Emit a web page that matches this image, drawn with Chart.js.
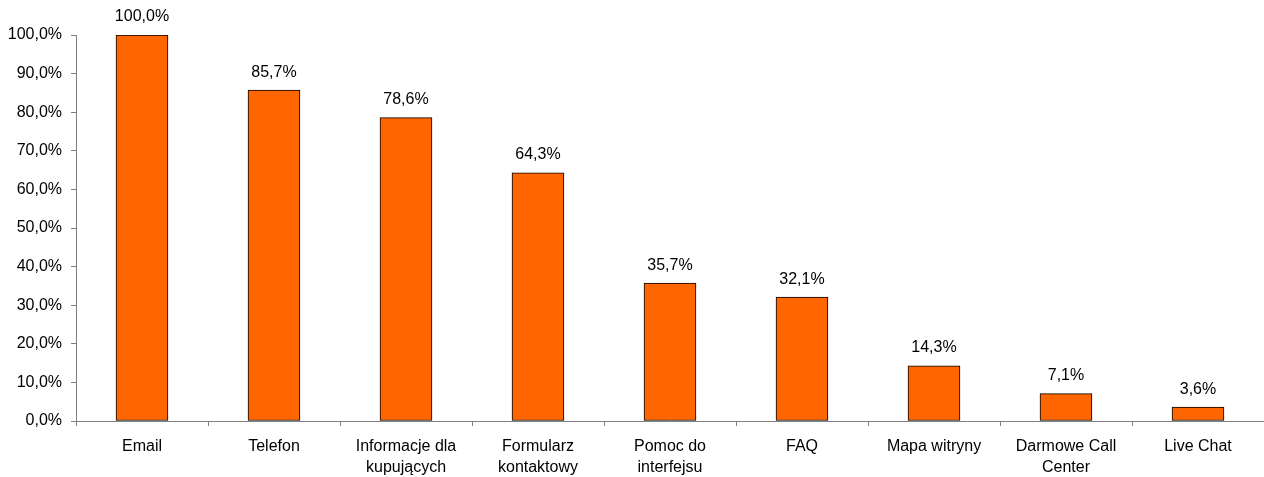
<!doctype html>
<html>
<head>
  <meta charset="utf-8">
  <title>Kanały kontaktu</title>
  <script src="https://cdn.jsdelivr.net/npm/chart.js"></script>
  <style>
    body { margin: 0; background: #fff; }
    #wrap { width: 1264px; height: 477px; position: relative; }
  </style>
</head>
<body>
<div id="wrap"><canvas id="chart"></canvas></div>
<script>
    const categories = [
        'Email',
        'Telefon',
        ['Informacje dla', 'kupujących'],
        ['Formularz', 'kontaktowy'],
        ['Pomoc do', 'interfejsu'],
        'FAQ',
        'Mapa witryny',
        ['Darmowe Call', 'Center'],
        'Live Chat'
    ];
    const shares = [100.0, 85.7, 78.6, 64.3, 35.7, 32.1, 14.3, 7.1, 3.6];

    const pct = v => v.toFixed(1).replace('.', ',') + '%';
    const axisGray = '#808080';
    const fontFamily = 'Arial, "Liberation Sans", sans-serif';
    const font = { family: fontFamily, size: 16 };

    // values printed above each bar
    const barLabels = {
        id: 'barLabels',
        afterDatasetsDraw(chart) {
            const ctx = chart.ctx;
            const meta = chart.getDatasetMeta(0);
            ctx.save();
            ctx.font = '16px ' + fontFamily;
            ctx.fillStyle = '#000';
            ctx.textAlign = 'center';
            ctx.textBaseline = 'middle';
            meta.data.forEach((bar, i) => {
                ctx.fillText(pct(shares[i]), bar.x, bar.y - 18);
            });
            ctx.restore();
        }
    };

    const ctx = document.getElementById('chart').getContext('2d');
    const chart = new Chart(ctx, {
        type: 'bar',
        data: {
            labels: categories,
            datasets: [{
                data: shares,
                backgroundColor: '#FF6600',
                borderColor: '#000',
                borderWidth: 1,
                borderSkipped: false,
                barThickness: 52
            }]
        },
        options: {
            responsive: true,
            maintainAspectRatio: false,
            animation: false,
            layout: { padding: { top: 35, right: 0, bottom: 0, left: 0 } },
            plugins: {
                legend: { display: false },
                tooltip: { enabled: false }
            },
            scales: {
                x: {
                    border: { color: axisGray, width: 1 },
                    grid: {
                        drawOnChartArea: false,
                        drawTicks: true,
                        tickLength: 5,
                        color: axisGray,
                        offset: true
                    },
                    ticks: {
                        color: '#000',
                        font: { ...font, lineHeight: 1.3 },
                        padding: 10,
                        maxRotation: 0,
                        autoSkip: false
                    },
                    afterFit: s => { s.height = 56; }
                },
                y: {
                    min: 0,
                    max: 100,
                    border: { color: axisGray, width: 1 },
                    grid: {
                        drawOnChartArea: false,
                        drawTicks: true,
                        tickLength: 5,
                        color: axisGray
                    },
                    ticks: {
                        stepSize: 10,
                        color: '#000',
                        font: font,
                        padding: 9,
                        callback: v => pct(v)
                    },
                    afterFit: s => { s.width = 76; }
                }
            }
        },
        plugins: [barLabels]
    });
</script>
</body>
</html>
